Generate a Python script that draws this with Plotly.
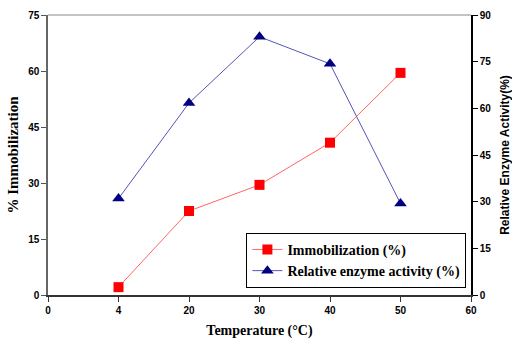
import plotly.graph_objects as go

x_labels = ["0", "4", "20", "30", "40", "50", "60"]
temps = ["4", "20", "30", "40", "50"]
immobilization = [2.1, 22.5, 29.5, 40.8, 59.5]
relative_activity = [31.0, 61.7, 83.0, 74.3, 29.4]

pos = {lab: i for i, lab in enumerate(x_labels)}
xp = [pos[t] for t in temps]

fig = go.Figure()
fig.add_trace(go.Scatter(
    x=xp, y=immobilization, name="<b>Immobilization (%)</b>", mode="lines+markers",
    line=dict(color="#ff6666", width=1),
    marker=dict(symbol="square", size=10, color="#ff0000"),
))
fig.add_trace(go.Scatter(
    x=xp, y=relative_activity, name="<b>Relative enzyme activity (%)</b>", mode="lines+markers",
    line=dict(color="#5555bb", width=1),
    marker=dict(symbol="triangle-up", size=11, color="#000080"),
    yaxis="y2",
))

tickfont = dict(family="Liberation Sans", size=10, color="black", weight="bold")
fig.update_layout(
    width=512, height=339,
    margin=dict(l=48, r=41, t=15, b=44),
    paper_bgcolor="white", plot_bgcolor="white",
    showlegend=True,
    legend=dict(
        x=0.469, y=0.222, xanchor="left", yanchor="top",
        bordercolor="black", borderwidth=1, bgcolor="white",
        font=dict(family="Liberation Serif", size=14, color="black"),
        tracegroupgap=2,
    ),
    xaxis=dict(
        range=[0, 6], tickmode="array", tickvals=list(range(len(x_labels))),
        ticktext=x_labels, ticks="outside", ticklen=5, tickcolor="#333",
        showgrid=False, zeroline=False, showline=True, linecolor="#333", linewidth=1.5,
        tickfont=tickfont, automargin=False,
        title=dict(text="<b>Temperature (°C)</b>", font=dict(family="Liberation Serif", size=14, color="black"), standoff=12),
    ),
    yaxis=dict(
        range=[0, 75], tickvals=[0, 15, 30, 45, 60, 75], ticks="outside", ticklen=5,
        tickcolor="#555", showgrid=False, zeroline=False, showline=True, linecolor="#666",
        linewidth=1.5, tickfont=tickfont, automargin=False,
        title=dict(text="<b>% Immobilization</b>", font=dict(family="Liberation Serif", size=15, color="black"), standoff=6),
    ),
    yaxis2=dict(
        range=[0, 90], tickvals=[0, 15, 30, 45, 60, 75, 90], ticks="outside", ticklen=5,
        tickcolor="black", overlaying="y", side="right", showgrid=False, zeroline=False,
        showline=True, linecolor="black", linewidth=1.5, tickfont=tickfont, automargin=False,
        title=dict(text="<b>Relative Enzyme Activity(%)</b>", font=dict(family="Liberation Sans", size=12, color="black"), standoff=10),
    ),
    shapes=[dict(type="line", xref="paper", yref="paper", x0=0, x1=1, y0=1, y1=1,
                 line=dict(color="#888", width=1))],
)

fig.write_html("out.html")
